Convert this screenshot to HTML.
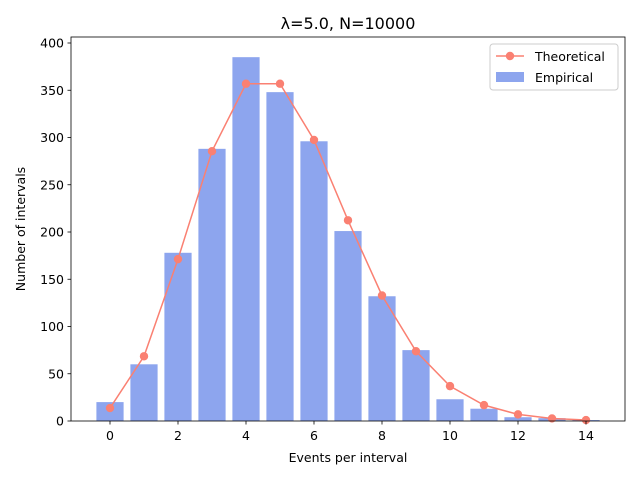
<!DOCTYPE html>
<html><head><meta charset="utf-8"><style>
body{margin:0;background:#fff}
svg text{font-family:"DejaVu Sans","Liberation Sans",sans-serif;fill:#000}
</style></head><body>
<svg id="chart" width="640" height="480"></svg>
<script>
const categories=[0,1,2,3,4,5,6,7,8,9,10,11,12,13,14];
const empirical=[20,60,178,288,385,348,296,201,132,75,23,13,4,3,1];
const theoretical=[13.7,68.5,171.3,285.5,356.9,356.9,297.4,212.4,132.8,73.8,36.9,16.8,7.0,2.7,1.0];
const xTicks=[0,2,4,6,8,10,12,14];
const yTicks=[0,50,100,150,200,250,300,350,400];
const NS="http://www.w3.org/2000/svg";
const svg=document.getElementById('chart');
const L=71,R=625,T=37,B=421;
const xs=v=>110+v*34;
const ys=v=>421-v*0.945;
function mk(tag,attrs,parent){const e=document.createElementNS(NS,tag);for(const k in attrs)e.setAttribute(k,attrs[k]);(parent||svg).appendChild(e);return e;}
const gBars=mk('g',{});


categories.forEach((c,i)=>{
  const b=mk('rect',{x:xs(c)-13.6,y:ys(empirical[i]),width:27.2,height:ys(0)-ys(empirical[i]),fill:'#8da5ee'},gBars);
  
  
});
const line=mk('polyline',{points:categories.map((c,i)=>xs(c)+','+ys(theoretical[i])).join(' '),fill:'none',stroke:'#fa8072','stroke-width':1.5});


categories.forEach((c,i)=>{
  const p=mk('circle',{cx:xs(c),cy:ys(theoretical[i]),r:4.2,fill:'#fa8072'});
  
  
});
const frame=mk('rect',{x:L,y:T,width:R-L,height:B-T,fill:'none',stroke:'#000','stroke-width':0.8});


xTicks.forEach(t=>{
  mk('line',{x1:xs(t),x2:xs(t),y1:B,y2:B+3.5,stroke:'#000','stroke-width':0.8});
  const tx=mk('text',{x:xs(t),y:B+19,'font-size':12.5,'text-anchor':'middle'});tx.textContent=t;
  
  
});
yTicks.forEach(t=>{
  mk('line',{x1:L,x2:L-3.5,y1:ys(t),y2:ys(t),stroke:'#000','stroke-width':0.8});
  const tx=mk('text',{x:L-7,y:ys(t)+4.5,'font-size':12.5,'text-anchor':'end'});tx.textContent=t;
  
  
});
</script>
<svg width="640" height="480" style="position:absolute;left:0;top:0">
<text x="348" y="29" font-size="16" text-anchor="middle">λ=5.0, N=10000</text>
<text x="348" y="462" font-size="12.5" text-anchor="middle">Events per interval</text>
<text x="25" y="229" font-size="12.5" text-anchor="middle" transform="rotate(-90 25 229)">Number of intervals</text>
<g>
<rect x="490" y="44" width="128" height="46" rx="3" fill="#fff" fill-opacity="0.8" stroke="#ccc"/>
<g>
<line x1="496" x2="524" y1="56" y2="56" stroke="#fa8072" stroke-width="1.5"/>
<circle cx="510" cy="56" r="4.2" fill="#fa8072"/>
<text x="535" y="61" font-size="12.5">Theoretical</text></g>
<g>
<rect x="496" y="72" width="28" height="10" fill="#8da5ee"/>
<text x="535" y="82" font-size="12.5">Empirical</text></g>
</g>
</svg>
</body></html>
